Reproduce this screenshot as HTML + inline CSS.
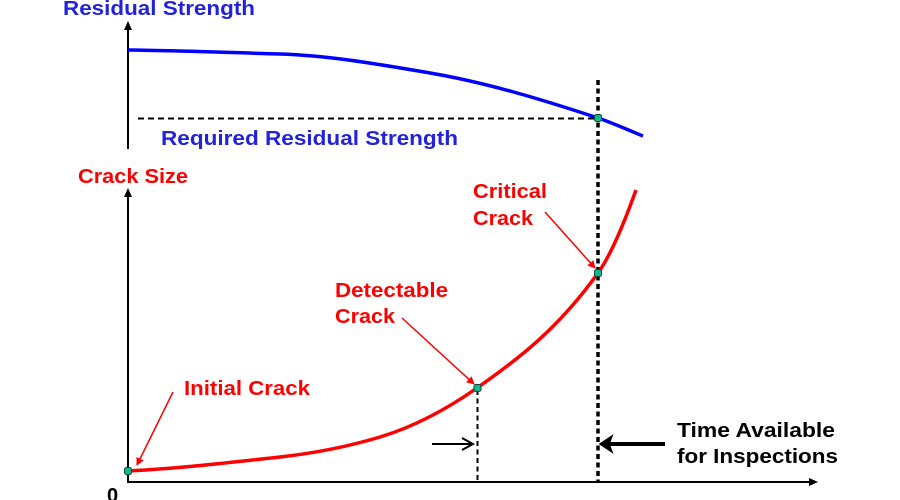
<!DOCTYPE html>
<html><head><meta charset="utf-8"><style>
html,body{margin:0;padding:0;background:#fff;}
svg{display:block;}
text{font-family:"Liberation Sans",Arial,sans-serif;font-weight:bold;font-size:20px;}
</style></head><body>
<svg width="900" height="500" viewBox="0 0 900 500" xmlns="http://www.w3.org/2000/svg">
<defs>
<marker id="ah" markerWidth="8" markerHeight="8" refX="7" refY="4" orient="auto" markerUnits="userSpaceOnUse">
<path d="M0,0 L8,4 L0,8 Z" fill="#ff0000"/>
</marker>
</defs>
<!-- Top axis -->
<line x1="128" y1="26" x2="128" y2="149" stroke="#000" stroke-width="2"/>
<path d="M124,30 L128,21 L132,30 Z" fill="#000"/>
<text x="63" y="15" fill="#2222dd" textLength="192" lengthAdjust="spacingAndGlyphs">Residual Strength</text>
<!-- blue curve -->
<path d="M128,50 C178.7,50.5 229.3,52.5 280,54 C330,55.5 380,64.5 430,73 C486,82.5 542,99.5 598,118 C613,123 628,130 643,136" fill="none" stroke="#0000ff" stroke-width="3.5"/>
<line x1="138" y1="118.5" x2="596" y2="118.5" stroke="#000" stroke-width="2" stroke-dasharray="6,4"/>
<text x="161" y="145" fill="#2222dd" textLength="297" lengthAdjust="spacingAndGlyphs">Required Residual Strength</text>
<!-- bottom axes -->
<text x="78" y="183" fill="#ff0000" textLength="110" lengthAdjust="spacingAndGlyphs">Crack Size</text>
<line x1="128" y1="194" x2="128" y2="483" stroke="#000" stroke-width="2"/>
<path d="M124,197 L128,188 L132,197 Z" fill="#000"/>
<line x1="127" y1="482" x2="812" y2="482" stroke="#000" stroke-width="2"/>
<path d="M809,478 L818,482 L809,486 Z" fill="#000"/>
<text x="107" y="502" fill="#000" font-size="18">0</text>
<!-- vertical dashed -->
<line x1="598" y1="80" x2="598" y2="482" stroke="#000" stroke-width="3.5" stroke-dasharray="5,3.5"/>
<line x1="477.5" y1="390" x2="477.5" y2="482" stroke="#000" stroke-width="2" stroke-dasharray="5,3.5"/>
<!-- red curve -->
<path d="M128,471 C178.7,468.5 229.3,462.6 280,457 C313.3,453.3 346.7,447 380,437 C412.3,427.3 444.7,410.6 477,388 C517.3,359.8 557.7,329.4 598,273 C610.7,255.3 623.3,225.5 636,190" fill="none" stroke="#ff0000" stroke-width="3.5"/>
<!-- red labels and arrows -->
<text x="184" y="395" fill="#ff0000" textLength="126" lengthAdjust="spacingAndGlyphs">Initial Crack</text>
<line x1="173" y1="392" x2="137" y2="465" stroke="#ff0000" stroke-width="1.5" marker-end="url(#ah)"/>
<text x="335" y="297" fill="#ff0000" textLength="113" lengthAdjust="spacingAndGlyphs">Detectable</text>
<text x="335" y="323" fill="#ff0000" textLength="60" lengthAdjust="spacingAndGlyphs">Crack</text>
<line x1="402" y1="318" x2="474" y2="384" stroke="#ff0000" stroke-width="1.5" marker-end="url(#ah)"/>
<text x="473" y="198" fill="#ff0000" textLength="74" lengthAdjust="spacingAndGlyphs">Critical</text>
<text x="473" y="225" fill="#ff0000" textLength="60" lengthAdjust="spacingAndGlyphs">Crack</text>
<line x1="545" y1="212" x2="595" y2="268" stroke="#ff0000" stroke-width="1.5" marker-end="url(#ah)"/>
<!-- points -->
<rect x="124.5" y="467.5" width="7" height="7" rx="2" fill="#10b890" stroke="#004a38" stroke-width="1"/>
<rect x="474" y="384.5" width="7" height="7" rx="2" fill="#10b890" stroke="#004a38" stroke-width="1"/>
<rect x="594.5" y="269.5" width="7" height="7" rx="2" fill="#10b890" stroke="#004a38" stroke-width="1"/>
<rect x="594.5" y="114.5" width="7" height="7" rx="2" fill="#10b890" stroke="#004a38" stroke-width="1"/>
<!-- time arrows -->
<line x1="432" y1="444" x2="472" y2="444" stroke="#000" stroke-width="2"/>
<polyline points="462,438 473,444 462,450" fill="none" stroke="#000" stroke-width="2"/>
<line x1="604" y1="444" x2="665" y2="444" stroke="#000" stroke-width="4"/>
<path d="M600,444 L612,436 L609,444 L612,452 Z" fill="#000" stroke="#000" stroke-width="1.5"/>
<text x="677" y="437" fill="#000" textLength="158" lengthAdjust="spacingAndGlyphs">Time Available</text>
<text x="677" y="463" fill="#000" textLength="161" lengthAdjust="spacingAndGlyphs">for Inspections</text>
</svg>
</body></html>
